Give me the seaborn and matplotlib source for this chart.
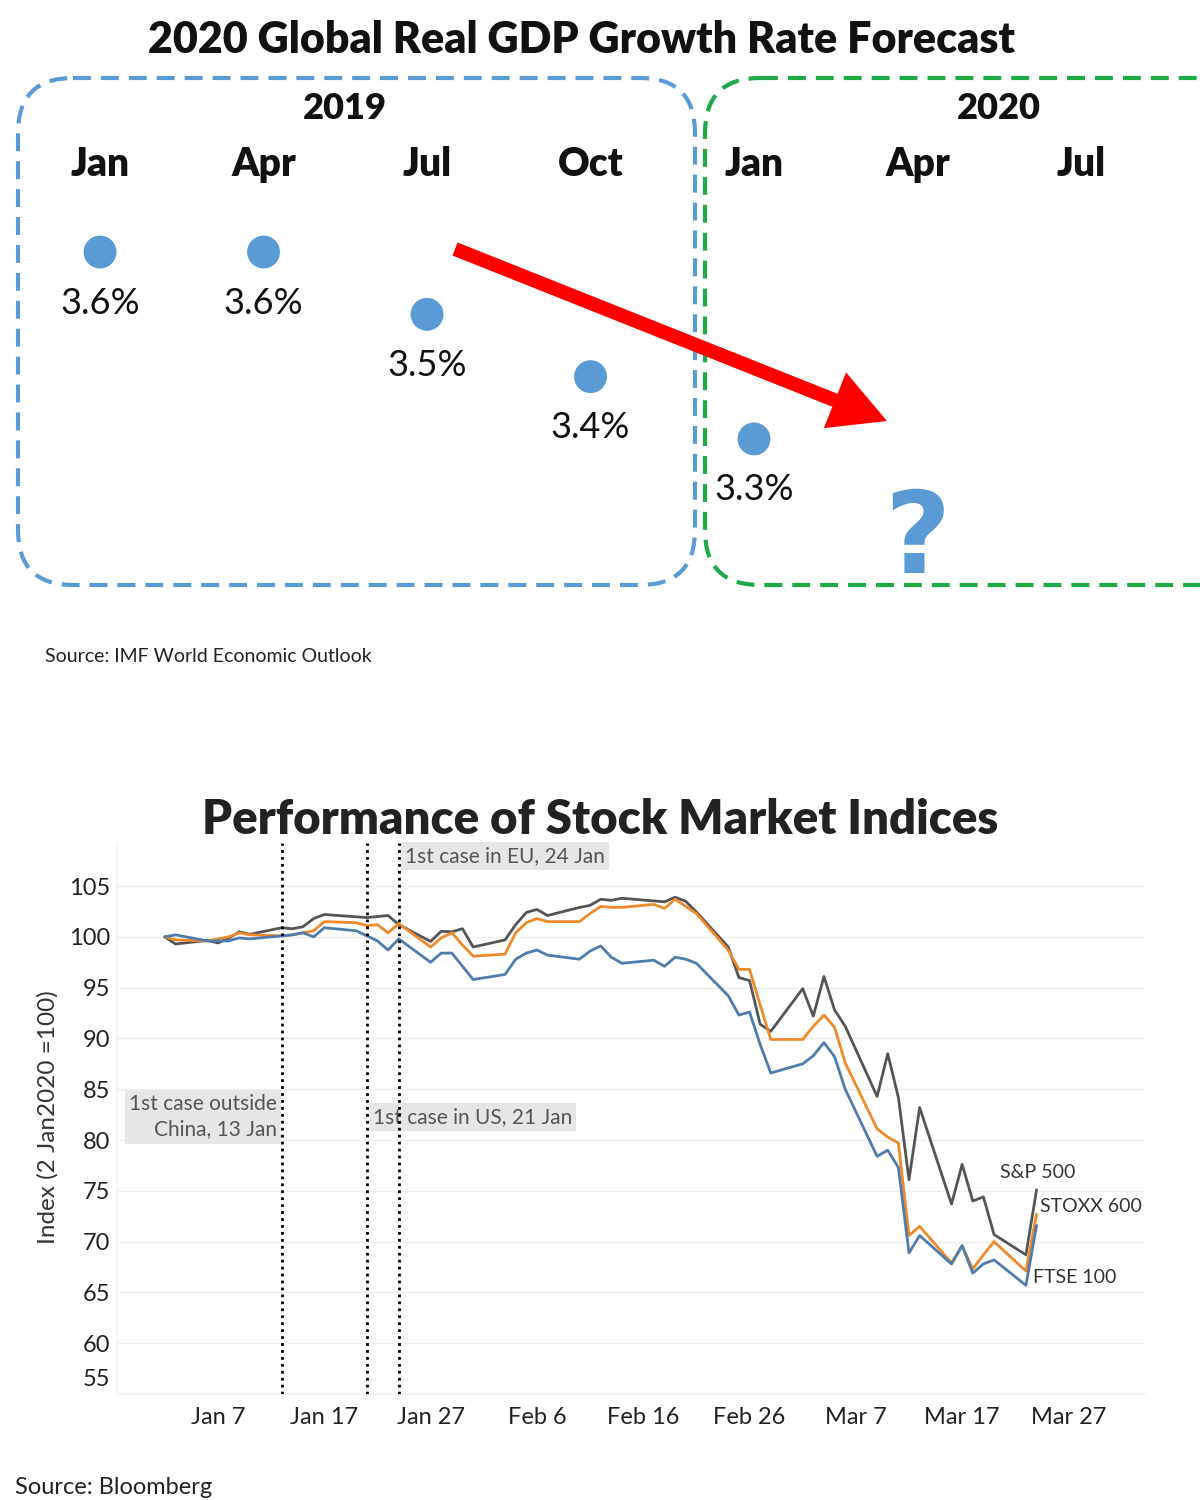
import numpy as np
import pandas as pd
import seaborn as sns
import matplotlib.pyplot as plt
import matplotlib.dates as mdates
from matplotlib.patches import FancyBboxPatch, FancyArrow
from matplotlib.transforms import ScaledTranslation

## GDP forecast data (IMF WEO)
gdp_months = ["Jan", "Apr", "Jul", "Oct", "Jan", "Apr", "Jul"]
gdp_years = ["2019", "2020"]
gdp_values = [3.6, 3.6, 3.5, 3.4, 3.3]

## Stock indices, 2 Jan 2020 = 100 (NaN = US market holiday)
nan = np.nan
trade_days = pd.bdate_range("2020-01-02", "2020-03-24")
sp500 = [100.0, 99.3, 99.65, 99.4, 99.85, 100.5, 100.25, 100.9, 100.8, 101.0, 101.8, 102.2,
         nan, 101.9, 102.0, 102.1, 101.2, 99.55, 100.55, 100.5, 100.8, 99.0,
         99.7, 101.2, 102.4, 102.7, 102.1, 102.9, 103.1, 103.7, 103.6, 103.8,
         nan, 103.45, 103.9, 103.5, 102.45, 99.0, 96.0, 95.7, 91.4, 90.7,
         94.9, 92.2, 96.1, 92.8, 91.2, 84.3, 88.5, 84.2, 76.1, 83.2,
         73.7, 77.6, 74.0, 74.4, 70.7, 68.7, 75.1]
stoxx600 = [100.0, 99.7, 99.6, 99.8, 100.0, 100.4, 100.2, 100.1, 100.2, 100.4, 100.6, 101.5,
            101.4, 101.1, 101.2, 100.4, 101.3, 99.0, 99.9, 100.4, 99.2, 98.1,
            98.3, 100.4, 101.4, 101.8, 101.5, 101.5, 102.3, 103.0, 102.9, 102.9,
            103.2, 102.8, 103.7, 103.0, 102.3, 98.7, 96.8, 96.8, 93.3, 89.9,
            89.9, 91.2, 92.3, 91.1, 87.6, 81.1, 80.3, 79.7, 70.6, 71.5,
            67.9, 69.6, 67.3, 68.7, 70.0, 67.1, 72.7]
ftse100 = [100.0, 100.2, 99.6, 99.6, 99.6, 99.9, 99.8, 100.1, 100.2, 100.4, 100.0, 100.9,
           100.6, 100.1, 99.6, 98.7, 99.8, 97.5, 98.4, 98.4, 97.1, 95.8,
           96.3, 97.8, 98.4, 98.7, 98.2, 97.8, 98.6, 99.1, 98.0, 97.4,
           97.7, 97.1, 98.0, 97.8, 97.4, 94.2, 92.3, 92.6, 89.4, 86.6,
           87.5, 88.3, 89.6, 88.2, 85.0, 78.4, 79.0, 77.3, 68.9, 70.6,
           67.8, 69.6, 66.9, 67.8, 68.2, 65.7, 71.6]
event_dates = ["2020-01-13", "2020-01-21", "2020-01-24"]
event_labels = ["1st case outside\nChina, 13 Jan", "1st case in US, 21 Jan", "1st case in EU, 24 Jan"]

sns.set_theme(style="white")
plt.rcParams["font.family"] = ["Lato", "DejaVu Sans"]

fig = plt.figure(figsize=(12, 15), dpi=100)

# overlay in pixel coords for the dashed boxes and the arrow
deco = fig.add_axes([0, 0, 1, 1], zorder=3)
deco.set_xlim(0, 1200)
deco.set_ylim(1500, 0)
deco.axis("off")
deco.patch.set_alpha(0)

## Top: GDP forecast
ax1 = fig.add_axes([0, 1 - 700 / 1500, 1, 700 / 1500], zorder=2)
ax1.patch.set_alpha(0)
ax1.set_xlim(-0.612, 6.728)
ax1.set_ylim(2.881, 4.0045)
ax1.axis("off")

sns.scatterplot(x=list(range(len(gdp_values))), y=gdp_values, s=560, color="#5b9bd5",
                edgecolor="none", ax=ax1, legend=False)
for i, v in enumerate(gdp_values):
    ax1.annotate(f"{v}%", (i, v), xytext=(0, -51), textcoords="offset pixels",
                 ha="center", va="center", fontsize=26, color="#111111")
for i, m in enumerate(gdp_months):
    ax1.text(i, 3.74, m, ha="center", va="center", fontsize=28, fontweight="heavy", color="#111111")
ax1.text(1.5, 3.831, gdp_years[0], ha="center", va="center", fontsize=26, fontweight="heavy", color="#111111")
ax1.text(5.5, 3.831, gdp_years[1], ha="center", va="center", fontsize=26, fontweight="heavy", color="#111111")
ax1.text(5.0, 3.135, "?", ha="center", va="center", fontsize=82, fontweight="bold",
         color="#5b9bd5", family="DejaVu Sans")

deco.add_patch(FancyBboxPatch((18, 78), 677, 507, boxstyle="round,pad=0,rounding_size=55",
                              fill=False, edgecolor="#5b9bd5", lw=3, linestyle=(0, (4.3, 2.4))))
deco.add_patch(FancyBboxPatch((705, 78), 620, 507, boxstyle="round,pad=0,rounding_size=55",
                              fill=False, edgecolor="#1faa48", lw=3, linestyle=(0, (4.3, 2.4))))
deco.add_patch(FancyArrow(455, 249, 432, 172, width=14, head_width=60, head_length=56,
                          length_includes_head=True, color="#ff0000", lw=0))

fig.text(582 / 1200, 1 - 40 / 1500, "2020 Global Real GDP Growth Rate Forecast",
         ha="center", va="center", fontsize=31, fontweight="heavy", color="#111111")
fig.text(45 / 1200, 1 - 656 / 1500, "Source: IMF World Economic Outlook",
         ha="left", va="center", fontsize=14, color="#222222")

## Bottom: stock indices
df = pd.DataFrame({"date": trade_days, "S&P 500": sp500, "STOXX 600": stoxx600, "FTSE 100": ftse100})
long_df = df.melt("date", var_name="index", value_name="value").dropna()
palette = {"S&P 500": "#555555", "STOXX 600": "#ef8a2b", "FTSE 100": "#4f7cab"}

ax2 = fig.add_axes([117 / 1200, 1 - 1394 / 1500, 1028 / 1200, 551 / 1500])
sns.lineplot(data=long_df, x="date", y="value", hue="index", palette=palette,
             linewidth=2.0, legend=False, ax=ax2)

ax2.set_xlim(pd.Timestamp("2020-01-02") - pd.Timedelta(days=4.5),
             pd.Timestamp("2020-01-02") + pd.Timedelta(days=92.2))
ax2.set_ylim(55, 109.24)
ax2.set_yticks(range(55, 106, 5))
ax2.set_xticks(pd.date_range("2020-01-07", "2020-03-27", freq="10D"))
ax2.xaxis.set_major_formatter(mdates.DateFormatter("%b %-d"))
ax2.tick_params(axis="both", length=0, labelsize=17, colors="#222222")
ax2.tick_params(axis="x", pad=9)
ax2.tick_params(axis="y", pad=5)
ax2.grid(axis="y", color="#efefef", lw=1)
for side in ["top", "right"]:
    ax2.spines[side].set_visible(False)
ax2.spines["left"].set_color("#f2f2f2")
ax2.spines["bottom"].set_color("#f2f2f2")
ax2.set_xlabel("")
ax2.set_ylabel("Index (2 Jan2020 =100)", fontsize=17.5, color="#333333")
ax2.yaxis.set_label_coords(-0.057, 0.503)

# squeeze the bottom tick label up like the original
lowest = ax2.get_yticklabels()[0]
lowest.set_transform(lowest.get_transform() + ScaledTranslation(0, 0.16, fig.dpi_scale_trans))

for d in event_dates:
    ax2.axvline(pd.Timestamp(d), color="black", lw=2, ls=(0, (1, 1.5)), zorder=5)

box = dict(boxstyle="square,pad=0.2", facecolor="#e6e6e6", edgecolor="none")
ax2.annotate(event_labels[0], (pd.Timestamp(event_dates[0]), 82.3), xytext=(-5, 0),
             textcoords="offset pixels", ha="right", va="center", multialignment="right",
             fontsize=15, color="#555555", linespacing=1.35, bbox=box, zorder=3)
ax2.annotate(event_labels[1], (pd.Timestamp(event_dates[1]), 82.3), xytext=(6, 0),
             textcoords="offset pixels", ha="left", va="center",
             fontsize=15, color="#555555", bbox=box, zorder=3)
ax2.annotate(event_labels[2], (pd.Timestamp(event_dates[2]), 107.95), xytext=(6, 0),
             textcoords="offset pixels", ha="left", va="center",
             fontsize=15, color="#555555", bbox=box, zorder=3)

label_offsets = {"S&P 500": (-37, 17), "STOXX 600": (3, 8), "FTSE 100": (-4, -52)}
for name, (dx, dy) in label_offsets.items():
    last = df.dropna(subset=[name]).iloc[-1]
    ax2.annotate(name, (last["date"], last[name]), xytext=(dx, dy), textcoords="offset pixels",
                 ha="left", va="center", fontsize=14, color="#333333")

fig.text(600 / 1200, 1 - 820 / 1500, "Performance of Stock Market Indices",
         ha="center", va="center", fontsize=34, fontweight="heavy", color="#222222")
fig.text(15 / 1200, 1 - 1487 / 1500, "Source: Bloomberg",
         ha="left", va="center", fontsize=17, color="#222222")

fig.savefig("out.png", dpi=100, facecolor="white")
